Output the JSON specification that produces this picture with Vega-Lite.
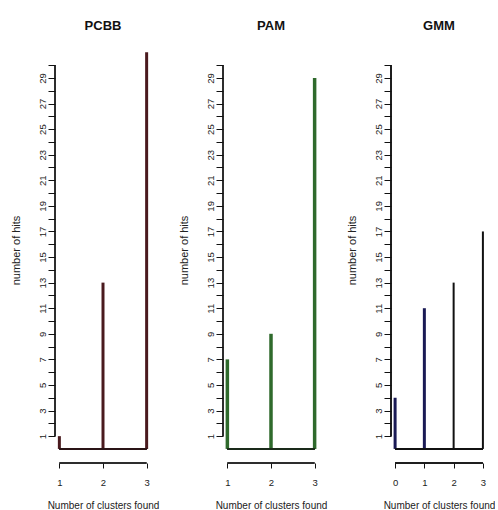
{
  "$schema": "https://vega.github.io/schema/vega-lite/v6.json",
  "padding": {"left": 10, "top": 20, "right": 0, "bottom": 0},
  "background": "white",
  "datasets": {
    "pcbb": [{"k": 1, "n": 1}, {"k": 2, "n": 13}, {"k": 3, "n": 31}],
    "pam": [{"k": 1, "n": 7}, {"k": 2, "n": 9}, {"k": 3, "n": 29}],
    "gmm": [{"k": 0, "n": 4}, {"k": 1, "n": 11}, {"k": 2, "n": 13}, {"k": 3, "n": 17}]
  },
  "config": {
    "view": {"stroke": null},
    "font": "Liberation Sans",
    "title": {"fontSize": 13, "fontWeight": "bold", "color": "#111", "offset": 4, "font": "Liberation Sans"},
    "axis": {
      "domain": false, "grid": false, "tickColor": "#111", "tickWidth": 1,
      "labelFontSize": 9.5, "labelColor": "#222", "titleFontWeight": "normal", "titleColor": "#222",
      "labelFont": "Liberation Sans", "titleFont": "Liberation Sans", "labelOverlap": false
    },
    "axisX": {"tickSize": 5, "labelPadding": 9, "titlePadding": 14, "titleFontSize": 10, "tickCount": 10},
    "axisY": {"tickSize": 7, "labelAngle": -90, "labelPadding": 1, "titlePadding": 16, "titleFontSize": 11, "labelBaseline": "bottom", "labelAlign": "center", "tickCount": 40}
  },
  "bounds": "flush",
  "spacing": 72,
  "hconcat": [
    {
      "title": "PCBB",
      "width": 96, "height": 426,
      "data": {"name": "pcbb"},
      "layer": [
        {"mark": {"type": "rule", "strokeWidth": 3, "color": "#4a1a1e"},
         "encoding": {
           "x": {"field": "k", "type": "quantitative", "scale": {"domain": [0.9, 3.1], "nice": false, "zero": false},
                 "axis": {"values": [1, 2, 3], "tickCount": 10, "title": "Number of clusters found", "format": "d", "labelOverlap": false}},
           "y": {"field": "n", "type": "quantitative", "scale": {"domain": [-1.1, 32.2], "nice": false, "zero": false},
                 "axis": {"values": [1,2,3,4,5,6,7,8,9,10,11,12,13,14,15,16,17,18,19,20,21,22,23,24,25,26,27,28,29,30], "tickCount": 40,
                          "labelOverlap": false, "labelExpr": "datum.value % 2 == 1 ? datum.label : ''", "title": "number of hits"}},
           "y2": {"datum": 0}}},
        {"mark": {"type": "rule", "strokeWidth": 2, "color": "#2a1416"},
         "encoding": {"x": {"datum": 1}, "x2": {"datum": 3}, "y": {"datum": 0}}},
        {"mark": {"type": "rule", "strokeWidth": 1, "color": "#111"},
         "encoding": {"x": {"datum": 0.9}, "y": {"datum": 1}, "y2": {"datum": 30}}},
        {"mark": {"type": "rule", "strokeWidth": 1, "color": "#111"},
         "encoding": {"x": {"datum": 1}, "x2": {"datum": 3}, "y": {"datum": -1.1}}}
      ]
    },
    {
      "title": "PAM",
      "width": 96, "height": 426,
      "data": {"name": "pam"},
      "layer": [
        {"mark": {"type": "rule", "strokeWidth": 3.5, "color": "#2f6a2c"},
         "encoding": {
           "x": {"field": "k", "type": "quantitative", "scale": {"domain": [0.9, 3.1], "nice": false, "zero": false},
                 "axis": {"values": [1, 2, 3], "tickCount": 10, "title": "Number of clusters found", "format": "d", "labelOverlap": false}},
           "y": {"field": "n", "type": "quantitative", "scale": {"domain": [-1.1, 32.2], "nice": false, "zero": false},
                 "axis": {"values": [1,2,3,4,5,6,7,8,9,10,11,12,13,14,15,16,17,18,19,20,21,22,23,24,25,26,27,28,29,30], "tickCount": 40,
                          "labelOverlap": false, "labelExpr": "datum.value % 2 == 1 ? datum.label : ''", "title": "number of hits"}},
           "y2": {"datum": 0}}},
        {"mark": {"type": "rule", "strokeWidth": 2, "color": "#1a2a1a"},
         "encoding": {"x": {"datum": 1}, "x2": {"datum": 3}, "y": {"datum": 0}}},
        {"mark": {"type": "rule", "strokeWidth": 1, "color": "#111"},
         "encoding": {"x": {"datum": 0.9}, "y": {"datum": 1}, "y2": {"datum": 30}}},
        {"mark": {"type": "rule", "strokeWidth": 1, "color": "#111"},
         "encoding": {"x": {"datum": 1}, "x2": {"datum": 3}, "y": {"datum": -1.1}}}
      ]
    },
    {
      "title": "GMM",
      "width": 96, "height": 426,
      "data": {"name": "gmm"},
      "layer": [
        {"mark": {"type": "rule"},
         "encoding": {
           "x": {"field": "k", "type": "quantitative", "scale": {"domain": [-0.14, 3.14], "nice": false, "zero": false},
                 "axis": {"values": [0, 1, 2, 3], "tickCount": 10, "title": "Number of clusters found", "format": "d", "labelOverlap": false}},
           "y": {"field": "n", "type": "quantitative", "scale": {"domain": [-1.1, 32.2], "nice": false, "zero": false},
                 "axis": {"values": [1,2,3,4,5,6,7,8,9,10,11,12,13,14,15,16,17,18,19,20,21,22,23,24,25,26,27,28,29,30], "tickCount": 40,
                          "labelOverlap": false, "labelExpr": "datum.value % 2 == 1 ? datum.label : ''", "title": "number of hits"}},
           "y2": {"datum": 0},
           "color": {"condition": {"test": "datum.k >= 2", "value": "#111111"}, "value": "#1a1a55"},
           "strokeWidth": {"condition": {"test": "datum.k >= 2", "value": 2}, "value": 3}}},
        {"mark": {"type": "rule", "strokeWidth": 2, "color": "#111"},
         "encoding": {"x": {"datum": 0}, "x2": {"datum": 3}, "y": {"datum": 0}}},
        {"mark": {"type": "rule", "strokeWidth": 1, "color": "#111"},
         "encoding": {"x": {"datum": -0.14}, "y": {"datum": 1}, "y2": {"datum": 30}}},
        {"mark": {"type": "rule", "strokeWidth": 1, "color": "#111"},
         "encoding": {"x": {"datum": 0}, "x2": {"datum": 3}, "y": {"datum": -1.1}}}
      ]
    }
  ]
}
